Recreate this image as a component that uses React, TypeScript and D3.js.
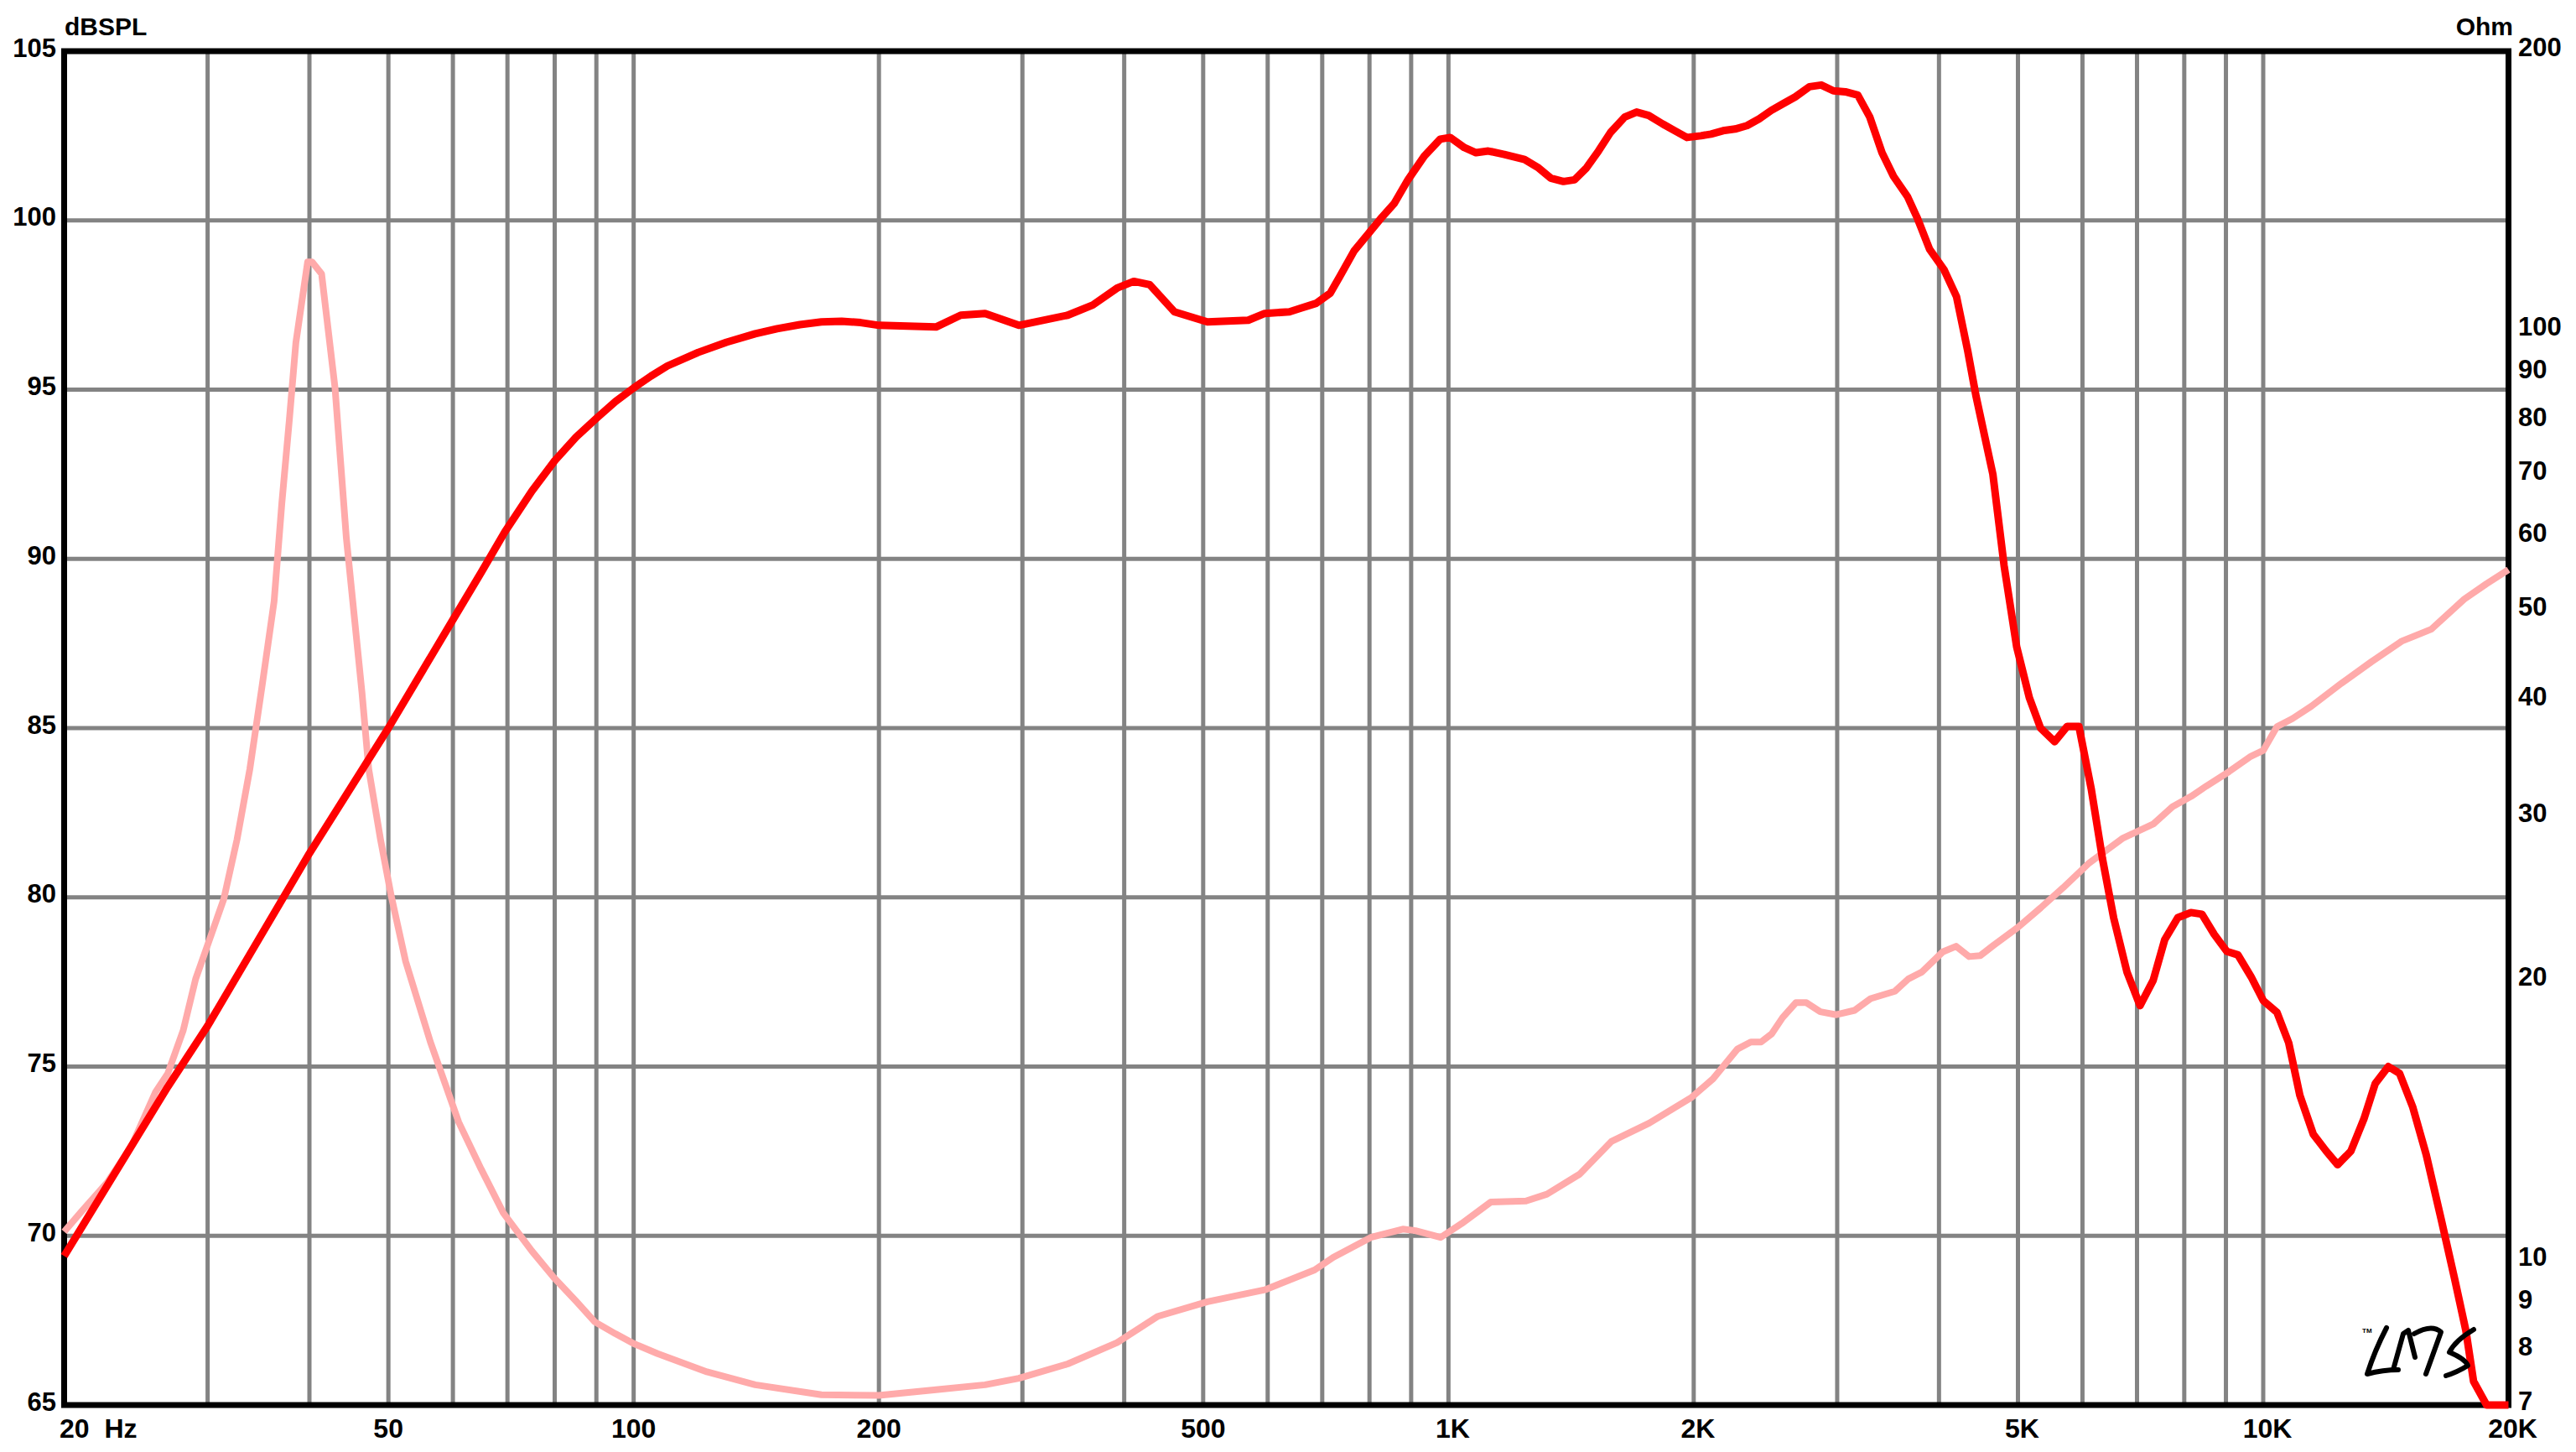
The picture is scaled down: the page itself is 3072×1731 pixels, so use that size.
import React from "react";
import * as d3 from "d3";

const W = 3072;
const H = 1731;
const PLOT = { left: 76.5, right: 2991.5, top: 61, bottom: 1675 };

// SPL response (red)
const splFreq = [
  20, 26.8, 30, 40, 50, 60, 65, 69.5, 75, 80, 85, 90, 95, 100, 105, 110, 120, 130, 141, 150, 160, 170, 180, 190, 200,
  235, 252, 270, 297, 341, 366, 392, 411, 430, 461, 506, 568, 595, 638, 657, 688, 716, 736, 766, 797, 829, 858, 892,
  934, 977, 1005, 1046, 1081, 1119, 1171, 1240, 1290, 1335, 1384, 1428, 1477, 1528, 1581, 1645, 1702, 1761, 1832,
  1896, 1962, 2041, 2100, 2173, 2248, 2325, 2406, 2490, 2576, 2665, 2774, 2868, 2968, 3070, 3180, 3290, 3405, 3518,
  3660, 3765, 3895, 4056, 4203, 4338, 4442, 4658, 4808, 4982, 5163, 5330, 5547, 5747, 5940, 6151, 6348, 6552, 6803,
  7060, 7328, 7570, 7855, 8150, 8410, 8710, 9025, 9310, 9664, 10000, 10396, 10747, 11090, 11520, 11950, 12340, 12810,
  13290, 13725, 14240, 14700, 15260, 15850, 16530, 17150, 17730, 18120, 18800, 20000,
];
const splDb = [
  69.4, 74.4, 76.2, 81.3, 85.0, 88.2, 89.6, 90.8, 92.0, 92.9, 93.6, 94.15, 94.65, 95.05, 95.4, 95.7, 96.1, 96.4,
  96.65, 96.8, 96.92, 97.0, 97.02, 96.98, 96.9, 96.85, 97.2, 97.25, 96.9, 97.2, 97.5, 98.0, 98.2, 98.1, 97.3, 97.0,
  97.05, 97.25, 97.3, 97.4, 97.55, 97.85, 98.35, 99.1, 99.6, 100.1, 100.5, 101.2, 101.9, 102.4, 102.45, 102.15, 102.0,
  102.05, 101.95, 101.8, 101.55, 101.25, 101.15, 101.2, 101.55, 102.05, 102.6, 103.05, 103.2, 103.1, 102.85, 102.65,
  102.45, 102.5, 102.55, 102.65, 102.7, 102.8, 103.0, 103.25, 103.45, 103.65, 103.95, 104.0, 103.83, 103.8, 103.7,
  103.05, 102.0, 101.3, 100.7, 100.05, 99.15, 98.55, 97.75, 96.15, 94.8, 92.5, 89.8, 87.4, 85.9, 85.0, 84.6, 85.05,
  85.05, 83.2, 81.15, 79.4, 77.8, 76.8, 77.55, 78.75, 79.4, 79.55, 79.5, 78.9, 78.4, 78.3, 77.65, 76.95, 76.6, 75.7,
  74.15, 73.0, 72.5, 72.1, 72.5, 73.45, 74.5, 75.0, 74.8, 73.8, 72.4, 70.5, 68.8, 67.2, 65.7, 65, 65,
];

// Impedance (pink)
const impFreq = [
  20, 21, 22.6, 24.2, 25.9, 26.8, 28.0, 29.0, 31.4, 32.6, 33.8, 35.0, 36.2, 37.0, 37.8, 38.5, 39.8, 40.3, 41.4, 43.0,
  44.4, 46.4, 47.3, 48.9, 50.4, 52.5, 56.3, 61.0, 65, 69.2, 75, 79.8, 85, 89.6, 95, 100, 107, 123, 141, 170, 200, 235,
  270, 297, 341, 392, 440, 506, 595, 685, 722, 803, 879, 911, 978, 1038, 1127, 1245, 1321, 1449, 1586, 1764, 1989,
  2112, 2263, 2350, 2420, 2493, 2571, 2670, 2750, 2860, 2993, 3151, 3297, 3531, 3667, 3810, 4043, 4198, 4355, 4495,
  4666, 5000, 5330, 5680, 6117, 6730, 7328, 7738, 8160, 8510, 9080, 9660, 10000, 10396, 10860, 11460, 12470, 13580,
  14790, 16080, 17650, 18800, 20000,
];
const impOhm = [
  10.75, 11.3, 12.15, 13.3, 15.2, 15.9, 17.7, 20.1, 24.5, 28.4, 33.8, 41.6, 51.2, 65.3, 80.4, 97.2, 118.7, 118.7,
  115.2, 86.9, 59.9, 40.9, 33.8, 28.4, 24.7, 21.0, 17.2, 14.1, 12.55, 11.26, 10.25, 9.6, 9.05, 8.6, 8.35, 8.15, 7.95,
  7.6, 7.36, 7.18, 7.17, 7.27, 7.36, 7.48, 7.75, 8.17, 8.72, 9.04, 9.31, 9.78, 10.09, 10.6, 10.82, 10.78, 10.6, 10.97,
  11.57, 11.6, 11.8, 12.4, 13.45, 14.07, 15.0, 15.7, 16.9, 17.2, 17.2, 17.55, 18.27, 18.96, 18.96, 18.54, 18.4, 18.6,
  19.15, 19.5, 20.1, 20.45, 21.5, 21.8, 21.25, 21.3, 21.85, 22.85, 23.97, 25.2, 26.8, 28.5, 29.5, 30.8, 31.6, 32.4,
  33.6, 34.9, 35.4, 37.55, 38.3, 39.5, 41.8, 44.1, 46.4, 47.8, 51.5, 53.5, 55.4,
];

const dbTicks = [65, 70, 75, 80, 85, 90, 95, 100, 105];
const ohmTicks = [7, 8, 9, 10, 20, 30, 40, 50, 60, 70, 80, 90, 100, 200];
const freqGrid = [
  30, 40, 50, 60, 70, 80, 90, 100, 200, 300, 400, 500, 600, 700, 800, 900, 1000, 2000, 3000, 4000, 5000, 6000, 7000,
  8000, 9000, 10000,
];
const freqLabelValues = [50, 100, 200, 500, 1000, 2000, 5000, 10000, 20000];
const freqLabelText = ["50", "100", "200", "500", "1K", "2K", "5K", "10K", "20K"];

const FONT = "'Liberation Sans', Arial, Helvetica, sans-serif";

export default function App() {
  const x = d3.scaleLog().domain([20, 20000]).range([PLOT.left, PLOT.right]);
  const yDb = d3.scaleLinear().domain([65, 105]).range([PLOT.bottom, PLOT.top]).clamp(true);
  const yOhm = d3.scaleLog().domain([7, 200]).range([PLOT.bottom, PLOT.top]).clamp(true);

  const splData = splFreq.map((f, i) => [f, splDb[i]] as [number, number]);
  const impData = impFreq.map((f, i) => [f, impOhm[i]] as [number, number]);

  const splLine = d3
    .line<[number, number]>()
    .x((d) => x(d[0]))
    .y((d) => yDb(d[1]));
  const impLine = d3
    .line<[number, number]>()
    .x((d) => x(d[0]))
    .y((d) => yOhm(d[1]));

  const gridDb = dbTicks.filter((v) => v > 65 && v < 105);

  return (
    <svg
      width={W}
      height={H}
      viewBox={`0 0 ${W} ${H}`}
      style={{ position: "absolute", left: 0, top: 0, background: "#ffffff" }}
    >
      <rect x={0} y={0} width={W} height={H} fill="#ffffff" />
      {/* grid */}
      <g stroke="#838383" strokeWidth={5}>
        {freqGrid.map((f) => (
          <line key={"v" + f} x1={x(f)} x2={x(f)} y1={PLOT.top} y2={PLOT.bottom} />
        ))}
        {gridDb.map((v) => (
          <line key={"h" + v} x1={PLOT.left} x2={PLOT.right} y1={yDb(v)} y2={yDb(v)} />
        ))}
      </g>
      {/* frame */}
      <rect
        x={PLOT.left}
        y={PLOT.top}
        width={PLOT.right - PLOT.left}
        height={PLOT.bottom - PLOT.top}
        fill="none"
        stroke="#000"
        strokeWidth={7}
      />
      {/* curves */}
      <path d={impLine(impData) || ""} fill="none" stroke="#ffaaaa" strokeWidth={8} strokeLinejoin="round" />
      <path d={splLine(splData) || ""} fill="none" stroke="#ff0000" strokeWidth={9} strokeLinejoin="round" />

      {/* axis labels */}
      <g fontFamily={FONT} fontWeight="bold" fontSize={31} fill="#000">
        {dbTicks.map((v) => (
          <text key={"l" + v} x={67} y={yDb(v) - 4} textAnchor="end" dominantBaseline="central">
            {v}
          </text>
        ))}
        <text x={77} y={42} fontSize={30}>
          dBSPL
        </text>
        <text x={2997} y={42} fontSize={30} textAnchor="end">
          Ohm
        </text>
        {ohmTicks.map((v) => (
          <text key={"r" + v} x={3003} y={yOhm(v) - 5} dominantBaseline="central">
            {v}
          </text>
        ))}
      </g>
      {/* bottom labels */}
      <g fontFamily={FONT} fontWeight="bold" fontSize={32} fill="#000">
        <text x={71} y={1714} style={{ whiteSpace: "pre" }}>
          {"20  Hz"}
        </text>
        {freqLabelValues.map((f, i) => (
          <text key={"b" + f} x={x(f) + (f >= 1000 ? 5 : 0)} y={1714} textAnchor="middle">
            {freqLabelText[i]}
          </text>
        ))}
      </g>
      {/* LMS logo */}
      <g fill="none" stroke="#000" strokeWidth={6} strokeLinecap="round" strokeLinejoin="round">
        <path d="M2846,1583 Q2832,1610 2823,1638 Q2842,1633 2860,1633" />
        <path d="M2854,1633 L2866,1590 L2872,1586 L2880,1618" />
        <path d="M2879,1590 Q2900,1578 2911,1588 L2893,1638" />
        <path d="M2950,1585 Q2928,1598 2921,1612 Q2940,1620 2943,1628 Q2930,1636 2917,1640" />
      </g>
      <text x={2817} y={1589} fontFamily={FONT} fontSize={8} fontWeight="bold" fill="#000">
        TM
      </text>
    </svg>
  );
}
